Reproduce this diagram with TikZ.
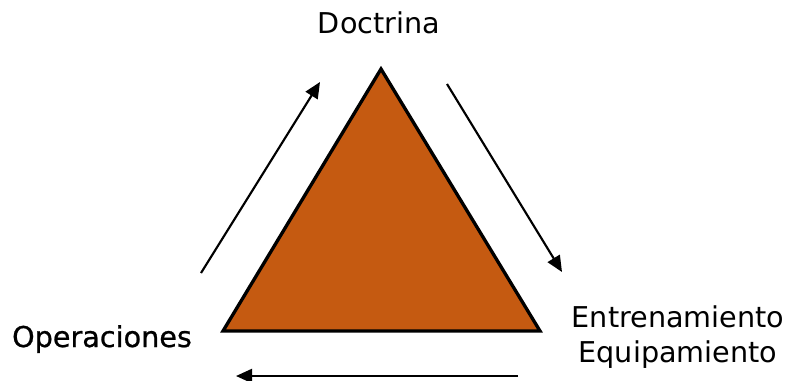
\documentclass[tikz,border=0pt]{standalone}
\usepackage{fontspec}
\setmainfont{DejaVu Sans}
\newfontface\gruesa{DejaVu Sans}[FakeBold=0.8]
\usepackage{xcolor}
\usetikzlibrary{arrows.meta}
\definecolor{ladrillo}{HTML}{C55A11}

\tikzset{
  etiqueta/.style={font=\fontsize{21.5}{26}\selectfont, anchor=base, inner sep=0pt},
  flecha/.style={-{Triangle[length=12pt,width=10.5pt]}, line width=1.6pt}
}

\begin{document}
\begin{tikzpicture}[x=0.75pt, y=-0.75pt]
        \useasboundingbox (0,0) rectangle (791,381);

        % vertices del triangulo
        \coordinate (arriba) at (381,69);
        \coordinate (izq) at (223,331);
        \coordinate (der) at (540,331);

        % triangulo
        \filldraw[fill=ladrillo, line width=2.5pt, line join=miter] (arriba)--(der)--(izq)--cycle;

        % textos
        \node[etiqueta] (doc) at (379,34) {Doctrina};
        \node[etiqueta] (ope) at (102,347) {\gruesa Operaciones};
        \node[etiqueta] (ent) at (678,327) {Entrenamiento};
        \node[etiqueta] (equ) at (678,362) {Equipamiento};

        % flechas
        \coordinate (a1) at (201,273);
        \coordinate (a2) at (320,82);
        \coordinate (b1) at (447,84);
        \coordinate (b2) at (562,272);
        \coordinate (c1) at (518,376);
        \coordinate (c2) at (236,376);
        \draw[flecha] (a1)--(a2);
        \draw[flecha] (b1)--(b2);
        \draw[flecha] (c1)--(c2);
      \end{tikzpicture}
\end{document}
